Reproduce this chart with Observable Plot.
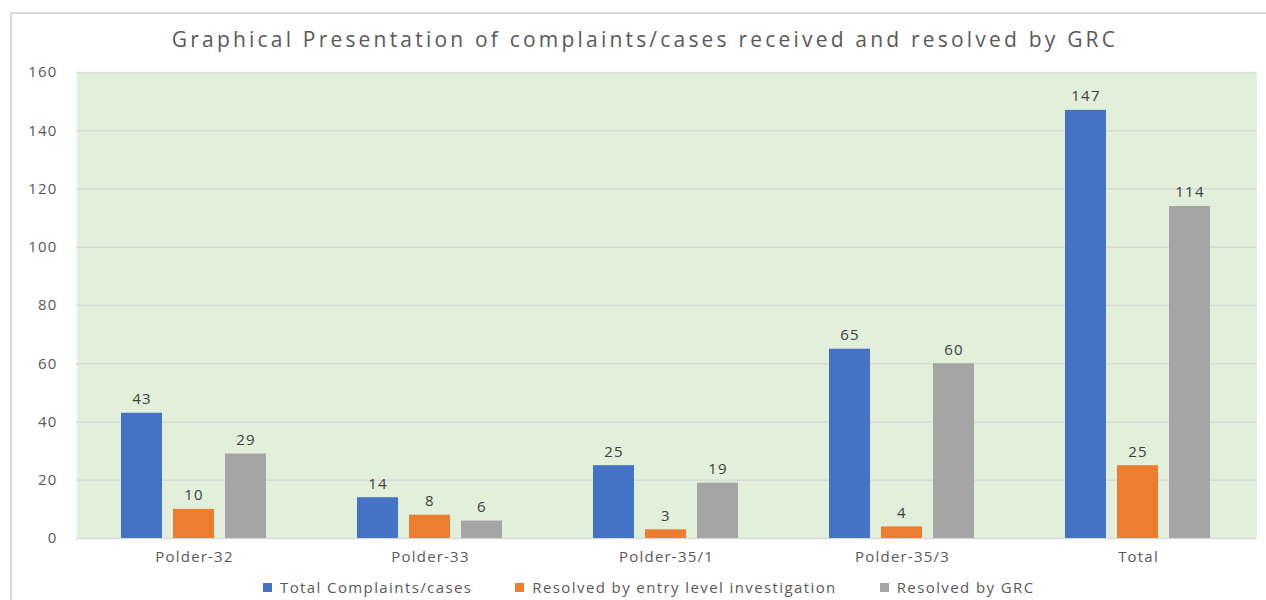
<!DOCTYPE html>
<html><head><meta charset="utf-8">
<script src="https://cdn.jsdelivr.net/npm/d3@7"></script>
<script src="https://cdn.jsdelivr.net/npm/@observablehq/plot@0.6"></script>
<style>
body{margin:0;background:#fff;width:1266px;height:600px;overflow:hidden;position:relative;font-family:"Open Sans",sans-serif;}
#frame{position:absolute;left:10px;top:12px;width:1300px;height:700px;border:2px solid #d9d9d9;box-sizing:border-box}
#title{position:absolute;left:0;width:1290px;top:25px;text-align:center;font-size:21px;color:#595959;letter-spacing:3.2px;white-space:nowrap}
#chart{position:absolute;left:0;top:0}
#legend{position:absolute;top:577px;left:263px;display:flex;align-items:center;font-size:15px;color:#595959;letter-spacing:1.4px;white-space:nowrap}
.item{display:flex;align-items:center;margin-right:43px}
.sw{width:9px;height:9px;margin-right:8px}
</style></head>
<body>
<div id="frame"></div>
<div id="chart"></div>
<div id="title">Graphical Presentation of complaints/cases received and resolved by GRC</div>
<div id="legend"></div>
<script>
const categories = ["Polder-32", "Polder-33", "Polder-35/1", "Polder-35/3", "Total"];
const seriesNames = ["Total Complaints/cases", "Resolved by entry level investigation", "Resolved by GRC"];
const totalComplaints = [43, 14, 25, 65, 147];
const resolvedEntry = [10, 8, 3, 4, 25];
const resolvedGRC = [29, 6, 19, 60, 114];
const seriesColors = ["#4472c4", "#ed7d31", "#a5a5a5"];
const yTicks = [0, 20, 40, 60, 80, 100, 120, 140, 160];

const seriesValues = [totalComplaints, resolvedEntry, resolvedGRC];
const rows = categories.flatMap((c, i) => seriesValues.map((arr, j) => ({category: c, series: seriesNames[j], value: arr[i]})));

const chart = Plot.plot({
  width: 1266, height: 570,
  marginTop: 72, marginBottom: 32, marginLeft: 76, marginRight: 10,
  fx: {domain: categories, padding: 0, label: null},
  x: {domain: seriesNames, paddingInner: 0.21, paddingOuter: 0.874, axis: null},
  y: {domain: [0, 160], label: null},
  color: {domain: seriesNames, range: seriesColors},
  style: {fontFamily: "Open Sans", fontSize: "15px", color: "#595959", background: "none", letterSpacing: "1.2px"},
  marks: [
    Plot.frame({fill: "#e2efda", stroke: null, shapeRendering: "crispEdges"}),
    Plot.gridY(yTicks, {stroke: "#d9d9d9", strokeOpacity: 1, strokeWidth: 1.5}),
    Plot.axisY(yTicks, {tickSize: 0, tickPadding: 19, fill: "#595959", label: null}),
    Plot.axisFx({anchor: "bottom", tickSize: 0, tickPadding: 13, fill: "#595959", label: null}),
    Plot.barY(rows, {fx: "category", x: "series", y: "value", fill: "series"}),
    Plot.text(rows, {fx: "category", x: "series", y: "value", text: "value", dy: -14, fill: "#404040"})
  ]
});
document.getElementById("chart").appendChild(chart);

const legend = document.getElementById("legend");
seriesNames.forEach((s, i) => {
  const it = document.createElement("div"); it.className = "item";
  const sw = document.createElement("div"); sw.className = "sw"; sw.style.background = seriesColors[i];
  const t = document.createElement("span"); t.textContent = s;
  it.appendChild(sw); it.appendChild(t); legend.appendChild(it);
});
</script>
</body></html>
